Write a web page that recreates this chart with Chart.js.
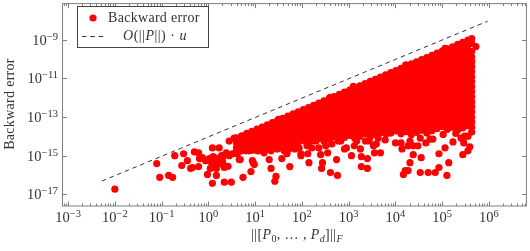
<!DOCTYPE html>
<html>
<head>
<meta charset="utf-8">
<script src="https://cdn.jsdelivr.net/npm/chart.js@4/dist/chart.umd.js"></script>
<style>
  html, body { margin: 0; padding: 0; background: #fff; }
  canvas { display: block; }
</style>
</head>
<body>
<canvas id="errorChart" width="530" height="251"></canvas>
<script>
// values are log10(norm), log10(error)
// the solid red area can't be read dot by dot, so these columns are estimates that fill it
const denseColumns = [
  [0.60, [-14.08,-14.34,-14.6]],
  [0.71, [-13.97,-14.23,-14.49,-14.75]],
  [0.82, [-13.85,-14.11,-14.37,-14.63]],
  [0.93, [-13.74,-14,-14.26,-14.52,-14.72]],
  [1.04, [-13.63,-13.89,-14.15,-14.41,-14.67]],
  [1.15, [-13.52,-13.78,-14.04,-14.3,-14.56]],
  [1.26, [-13.41,-13.67,-13.93,-14.19,-14.45,-14.66]],
  [1.37, [-13.29,-13.55,-13.81,-14.07,-14.33,-14.59]],
  [1.48, [-13.18,-13.44,-13.7,-13.96,-14.22,-14.48]],
  [1.59, [-13.07,-13.33,-13.59,-13.85,-14.11,-14.37,-14.63]],
  [1.70, [-12.96,-13.22,-13.48,-13.74,-14,-14.26,-14.52]],
  [1.81, [-12.84,-13.1,-13.36,-13.62,-13.88,-14.14,-14.4]],
  [1.92, [-12.73,-12.99,-13.25,-13.51,-13.77,-14.03,-14.29,-14.55]],
  [2.03, [-12.62,-12.88,-13.14,-13.4,-13.66,-13.92,-14.18]],
  [2.14, [-12.51,-12.77,-13.03,-13.29,-13.55,-13.81,-14.07,-14.33]],
  [2.25, [-12.4,-12.66,-12.92,-13.18,-13.44,-13.7,-13.96,-14.22]],
  [2.36, [-12.28,-12.54,-12.8,-13.06,-13.32,-13.58,-13.84,-14.1]],
  [2.47, [-12.17,-12.43,-12.69,-12.95,-13.21,-13.47,-13.73,-13.99]],
  [2.58, [-12.06,-12.32,-12.58,-12.84,-13.1,-13.36,-13.62,-13.88,-14.14]],
  [2.69, [-11.95,-12.21,-12.47,-12.73,-12.99,-13.25,-13.51,-13.77,-14.03]],
  [2.80, [-11.83,-12.09,-12.35,-12.61,-12.87,-13.13,-13.39,-13.65,-13.91]],
  [2.91, [-11.72,-11.98,-12.24,-12.5,-12.76,-13.02,-13.28,-13.54,-13.8,-14.06]],
  [3.02, [-11.61,-11.87,-12.13,-12.39,-12.65,-12.91,-13.17,-13.43,-13.69,-13.95]],
  [3.13, [-11.5,-11.76,-12.02,-12.28,-12.54,-12.8,-13.06,-13.32,-13.58,-13.84,-14.1]],
  [3.24, [-11.39,-11.65,-11.91,-12.17,-12.43,-12.69,-12.95,-13.21,-13.47,-13.73,-13.99]],
  [3.35, [-11.27,-11.53,-11.79,-12.05,-12.31,-12.57,-12.83,-13.09,-13.35,-13.61,-13.87]],
  [3.46, [-11.16,-11.42,-11.68,-11.94,-12.2,-12.46,-12.72,-12.98,-13.24,-13.5,-13.76,-14.02]],
  [3.57, [-11.05,-11.31,-11.57,-11.83,-12.09,-12.35,-12.61,-12.87,-13.13,-13.39,-13.65,-13.91]],
  [3.68, [-10.94,-11.2,-11.46,-11.72,-11.98,-12.24,-12.5,-12.76,-13.02,-13.28,-13.54,-13.8]],
  [3.79, [-10.82,-11.08,-11.34,-11.6,-11.86,-12.12,-12.38,-12.64,-12.9,-13.16,-13.42,-13.68]],
  [3.90, [-10.71,-10.97,-11.23,-11.49,-11.75,-12.01,-12.27,-12.53,-12.79,-13.05,-13.31,-13.57,-13.83]],
  [4.01, [-10.6,-10.86,-11.12,-11.38,-11.64,-11.9,-12.16,-12.42,-12.68,-12.94,-13.2,-13.46,-13.72]],
  [4.12, [-10.49,-10.75,-11.01,-11.27,-11.53,-11.79,-12.05,-12.31,-12.57,-12.83,-13.09,-13.35,-13.61,-13.87]],
  [4.23, [-10.38,-10.64,-10.9,-11.16,-11.42,-11.68,-11.94,-12.2,-12.46,-12.72,-12.98,-13.24,-13.5,-13.76]],
  [4.34, [-10.26,-10.52,-10.78,-11.04,-11.3,-11.56,-11.82,-12.08,-12.34,-12.6,-12.86,-13.12,-13.38,-13.64,-13.9]],
  [4.45, [-10.15,-10.41,-10.67,-10.93,-11.19,-11.45,-11.71,-11.97,-12.23,-12.49,-12.75,-13.01,-13.27,-13.53,-13.79]],
  [4.56, [-10.04,-10.3,-10.56,-10.82,-11.08,-11.34,-11.6,-11.86,-12.12,-12.38,-12.64,-12.9,-13.16,-13.42,-13.68]],
  [4.67, [-9.93,-10.19,-10.45,-10.71,-10.97,-11.23,-11.49,-11.75,-12.01,-12.27,-12.53,-12.79,-13.05,-13.31,-13.57,-13.83]],
  [4.78, [-9.81,-10.07,-10.33,-10.59,-10.85,-11.11,-11.37,-11.63,-11.89,-12.15,-12.41,-12.67,-12.93,-13.19,-13.45,-13.71]],
  [4.89, [-9.7,-9.96,-10.22,-10.48,-10.74,-11,-11.26,-11.52,-11.78,-12.04,-12.3,-12.56,-12.82,-13.08,-13.34,-13.6]],
  [5.00, [-9.59,-9.85,-10.11,-10.37,-10.63,-10.89,-11.15,-11.41,-11.67,-11.93,-12.19,-12.45,-12.71,-12.97,-13.23,-13.49]],
  [5.11, [-9.48,-9.74,-10,-10.26,-10.52,-10.78,-11.04,-11.3,-11.56,-11.82,-12.08,-12.34,-12.6,-12.86,-13.12,-13.38,-13.64]],
  [5.22, [-9.37,-9.63,-9.89,-10.15,-10.41,-10.67,-10.93,-11.19,-11.45,-11.71,-11.97,-12.23,-12.49,-12.75,-13.01,-13.27,-13.53]],
  [5.33, [-9.25,-9.51,-9.77,-10.03,-10.29,-10.55,-10.81,-11.07,-11.33,-11.59,-11.85,-12.11,-12.37,-12.63,-12.89,-13.15,-13.41,-13.67]],
  [5.44, [-9.14,-9.4,-9.66,-9.92,-10.18,-10.44,-10.7,-10.96,-11.22,-11.48,-11.74,-12,-12.26,-12.52,-12.78,-13.04,-13.3,-13.56]],
  [5.55, [-9.03,-9.29,-9.55,-9.81,-10.07,-10.33,-10.59,-10.85,-11.11,-11.37,-11.63,-11.89,-12.15,-12.41,-12.67,-12.93,-13.19,-13.45]],
  [5.63, [-8.95,-9.2,-9.62,-9.9,-10.15,-10.4,-10.66,-10.92,-11.18,-11.44,-11.7,-11.96,-12.22,-12.48,-12.74,-13,-13.26,-13.52,-13.78]],
  [5.72, [-9.36]]
];

// dots that stand apart around the edge of the solid area
const looseNorms = [
  -2,-1.105,-1.04,-0.85,-0.765,-0.72,-0.53,-0.57,-0.45,-0.38,-0.34,-0.3,-0.21,-0.19,-0.21,-0.13,-0.06,-0.02,0.04,0.085,
  0.085,0.23,0.13,0.17,0.23,0.17,0.17,0.255,0.34,0.49,0.34,0.38,0.28,0.445,0.55,0.68,0.74,0.91,0.96,0.98,
  0.94,0.05,0.1,0.3,0.42,0.1,0.3,0.2,0.12,0.445,0.55,0.62,0.66,0.8,1.08,1.3,1.34,1.445,1.42,1.74,
  1.57,1.68,1.64,1.98,2.15,1.98,2.125,2.44,2.42,2.61,2.76,2.74,2.4,2.55,2.91,3.06,3.27,3.4,3.4,3.27,
  3.55,3.68,3.12,4,3.59,3.25,2.95,2.06,2.21,2.51,2.78,3.44,3.78,4.17,4.21,4.31,4.27,4.53,4.7,4.85,
  4.93,5.1,5.14,4.93,5.06,5.23,5.46,5.44,5.55,5.59,4.55,4.38,4.27,4.14,4.48,4.8,4.65,5.55,5.4,5.02,5.29,
  0.38,0.51,0.13,0.19,0.34,0.02,0.87,1.04,1.19,1.34,1.47,1.62,1.72,1.85,1.94,0.77,
  2.11,2.3,2.36,2.47,2.64,2.83,3.17,3.36,3.53,3.63,3.8,4.12,4.31,4.38,4.53,4.74,5.48,
  1.5,2.6,3.1,4.22,5.06
];
const looseErrors = [
  -16.73,-15.41,-16.12,-16.02,-16.12,-15,-14.9,-15.51,-15.26,-15.66,-15.61,-14.8,-14.85,-15.15,-15.56,-15.1,-15.26,-15.97,-15.66,-16.43,
  -14.6,-14.6,-15.1,-15.26,-15.15,-15.66,-16.02,-15.41,-16.37,-16.37,-15.61,-14.9,-15,-15,-14.9,-15.2,-16.12,-15.82,-15.36,-15.46,
  -15.26,-15.3,-15.45,-15.3,-15.55,-15.05,-15.15,-15.4,-15.35,-14.24,-14.09,-14.9,-15.2,-14.75,-14.75,-15.2,-15.66,-16.07,-16.32,-15.56,
  -15.15,-14.9,-14.6,-14.9,-15.36,-15,-14.9,-15.36,-15.66,-15.87,-16.02,-15.2,-14.95,-14.85,-14.65,-15,-15.56,-15.66,-15.15,-15.05,
  -14.85,-14.85,-14.49,-14.34,-14.39,-14.65,-14.6,-14.24,-14.6,-14.49,-14.24,-14.24,-14.19,-15.97,-15.77,-15.36,-15.77,-15.87,-15.87,-15.87,
  -15.61,-16.02,-15.36,-14.9,-14.6,-14.29,-14.34,-14.95,-14.75,-14.54,-15.1,-14.95,-14.49,-14.65,-14.49,-14.14,-14.34,-13.99,-14.09,-13.9,-13.85,
  -14.85,-14.9,-15.26,-15.41,-15.51,-15.15,-14.75,-14.75,-14.85,-14.75,-14.65,-14.75,-14.65,-14.65,-14.6,-14.49,
  -14.49,-14.24,-14.6,-14.24,-14.39,-14.24,-14.24,-14.24,-14.49,-14.09,-13.88,-14.34,-14.24,-14.49,-14.09,-14.14,-13.99,
  -13.12,-11.98,-11.42,-10.3,-9.45
];

const boundNorms = [-2.28, 5.97];
const boundErrors = [-16.31, -8.05];

const xTickExps = [-3, -2, -1, 0, 1, 2, 3, 4, 5, 6];
const xMinorSteps = [2, 3, 4, 5, 6, 7, 8, 9];
const yTickExps = [-9, -11, -13, -15, -17];

const backwardPoints = [];
denseColumns.forEach(function (col) {
  col[1].forEach(function (e) {
    backwardPoints.push({ x: Math.pow(10, col[0]), y: Math.pow(10, e) });
  });
});
looseNorms.forEach(function (n, i) {
  backwardPoints.push({ x: Math.pow(10, n), y: Math.pow(10, looseErrors[i]) });
});
const boundPoints = boundNorms.map(function (n, i) {
  return { x: Math.pow(10, n), y: Math.pow(10, boundErrors[i]) };
});

const axisGray = '#7f7f7f';
const textGray = '#333';
const serif = '"Liberation Serif", serif';

// writes a row of [text, font, yOffset] pieces left to right, returns the end x
function writeRun(ctx, pieces, x, y) {
  pieces.forEach(function (p) {
    ctx.font = p[1];
    ctx.fillText(p[0], x, y + (p[2] || 0));
    x += ctx.measureText(p[0]).width;
  });
  return x;
}

function runWidth(ctx, pieces) {
  let w = 0;
  pieces.forEach(function (p) {
    ctx.font = p[1];
    w += ctx.measureText(p[0]).width;
  });
  return w;
}

function powerPieces(exp) {
  const sign = exp < 0 ? '\u2212' : '';
  return [['10', '14.5px ' + serif, 0], [sign + Math.abs(exp), '10.5px ' + serif, -5]];
}

// frame, inward ticks, pgfplots style tick labels, axis titles and the legend
const axisDecor = {
  id: 'axisDecor',
  afterDraw: function (chart) {
    const ctx = chart.ctx;
    const a = chart.chartArea;
    const xs = chart.scales.x;
    const ys = chart.scales.y;
    ctx.save();

    ctx.strokeStyle = axisGray;
    ctx.lineWidth = 1;
    ctx.beginPath();
    xTickExps.concat([-4]).forEach(function (exp) {
      if (exp >= -3) {
        const px = Math.round(xs.getPixelForValue(Math.pow(10, exp))) + 0.5;
        ctx.moveTo(px, a.bottom); ctx.lineTo(px, a.bottom - 4.5);
        ctx.moveTo(px, a.top); ctx.lineTo(px, a.top + 4.5);
      }
      xMinorSteps.forEach(function (m) {
        const v = m * Math.pow(10, exp);
        if (v < xs.min || v > xs.max) return;
        const mx = Math.round(xs.getPixelForValue(v)) + 0.5;
        ctx.moveTo(mx, a.bottom); ctx.lineTo(mx, a.bottom - 2.5);
        ctx.moveTo(mx, a.top); ctx.lineTo(mx, a.top + 2.5);
      });
    });
    yTickExps.forEach(function (exp) {
      const py = Math.round(ys.getPixelForValue(Math.pow(10, exp))) + 0.5;
      ctx.moveTo(a.left, py); ctx.lineTo(a.left + 4.5, py);
      ctx.moveTo(a.right, py); ctx.lineTo(a.right - 4.5, py);
    });
    ctx.stroke();
    ctx.strokeRect(a.left, a.top, a.right - a.left, a.bottom - a.top);

    ctx.fillStyle = textGray;
    ctx.textBaseline = 'alphabetic';
    ctx.textAlign = 'left';
    xTickExps.forEach(function (exp) {
      const pieces = powerPieces(exp);
      const px = xs.getPixelForValue(Math.pow(10, exp));
      writeRun(ctx, pieces, px - runWidth(ctx, pieces) / 2, 222);
    });
    yTickExps.forEach(function (exp) {
      const pieces = powerPieces(exp);
      const py = ys.getPixelForValue(Math.pow(10, exp));
      writeRun(ctx, pieces, 58 - runWidth(ctx, pieces), py + 5);
    });

    // x title
    const roman = '14px ' + serif;
    const italic = 'italic 14px ' + serif;
    const subRoman = '10px ' + serif;
    const subItalic = 'italic 10px ' + serif;
    ctx.letterSpacing = '0.4px';
    const xTitle = [
      ['||[', roman, 0], ['P', italic, 0], ['0', subRoman, 2.5], [', \u2026 , ', roman, 0],
      ['P', italic, 0], ['d', subItalic, 2.5], [']||', roman, 0], ['F', subItalic, 3]
    ];
    writeRun(ctx, xTitle, 297 - runWidth(ctx, xTitle) / 2, 239);
    ctx.letterSpacing = '0px';

    // y title
    ctx.save();
    ctx.translate(14, 104);
    ctx.rotate(-Math.PI / 2);
    ctx.font = roman;
    ctx.textAlign = 'center';
    ctx.letterSpacing = '0.3px';
    ctx.fillText('Backward error', 0, 0);
    ctx.restore();

    // legend
    ctx.fillStyle = '#fff';
    ctx.fillRect(77.5, 6.5, 131, 41);
    ctx.strokeStyle = '#444';
    ctx.lineWidth = 1;
    ctx.strokeRect(77.5, 6.5, 131, 41);

    ctx.fillStyle = '#ff0000';
    ctx.beginPath();
    ctx.arc(93, 18, 3.6, 0, Math.PI * 2);
    ctx.fill();

    ctx.strokeStyle = '#000';
    ctx.lineWidth = 0.8;
    ctx.setLineDash([4.5, 3.8]);
    ctx.beginPath();
    ctx.moveTo(82, 36.5);
    ctx.lineTo(104, 36.5);
    ctx.stroke();
    ctx.setLineDash([]);

    ctx.fillStyle = textGray;
    ctx.font = roman;
    ctx.letterSpacing = '0.3px';
    ctx.fillText('Backward error', 108, 22);
    ctx.letterSpacing = '0.5px';
    const legendFormula = [
      ['O', italic, 0], ['(||', roman, 0], ['P', italic, 0], ['||)', roman, 0], [' \u00b7 ', roman, 0], ['u', italic, 0]
    ];
    writeRun(ctx, legendFormula, 155 - runWidth(ctx, legendFormula) / 2, 40);

    ctx.restore();
  }
};

const ctx = document.getElementById('errorChart').getContext('2d');

new Chart(ctx, {
  type: 'scatter',
  data: {
    datasets: [{
      label: 'Backward error',
      data: backwardPoints,
      backgroundColor: '#ff0000',
      borderWidth: 0,
      pointRadius: 3.6,
      pointHoverRadius: 3.6
    }, {
      label: 'O(||P||) u',
      data: boundPoints,
      showLine: true,
      borderColor: '#000',
      borderWidth: 0.8,
      borderDash: [4.5, 3.8],
      pointRadius: 0
    }]
  },
  options: {
    responsive: false,
    animation: false,
    layout: {
      padding: { left: 62.5, right: 0.5, top: 0.5, bottom: 45 }
    },
    plugins: {
      legend: { display: false },
      tooltip: { enabled: false }
    },
    scales: {
      x: {
        type: 'logarithmic',
        min: Math.pow(10, -3.12),
        max: Math.pow(10, 6.8),
        grid: { display: false, drawTicks: false },
        border: { display: false },
        ticks: { display: false }
      },
      y: {
        type: 'logarithmic',
        min: Math.pow(10, -17.6),
        max: Math.pow(10, -7.14),
        grid: { display: false, drawTicks: false },
        border: { display: false },
        ticks: { display: false }
      }
    }
  },
  plugins: [axisDecor]
});
</script>
</body>
</html>
